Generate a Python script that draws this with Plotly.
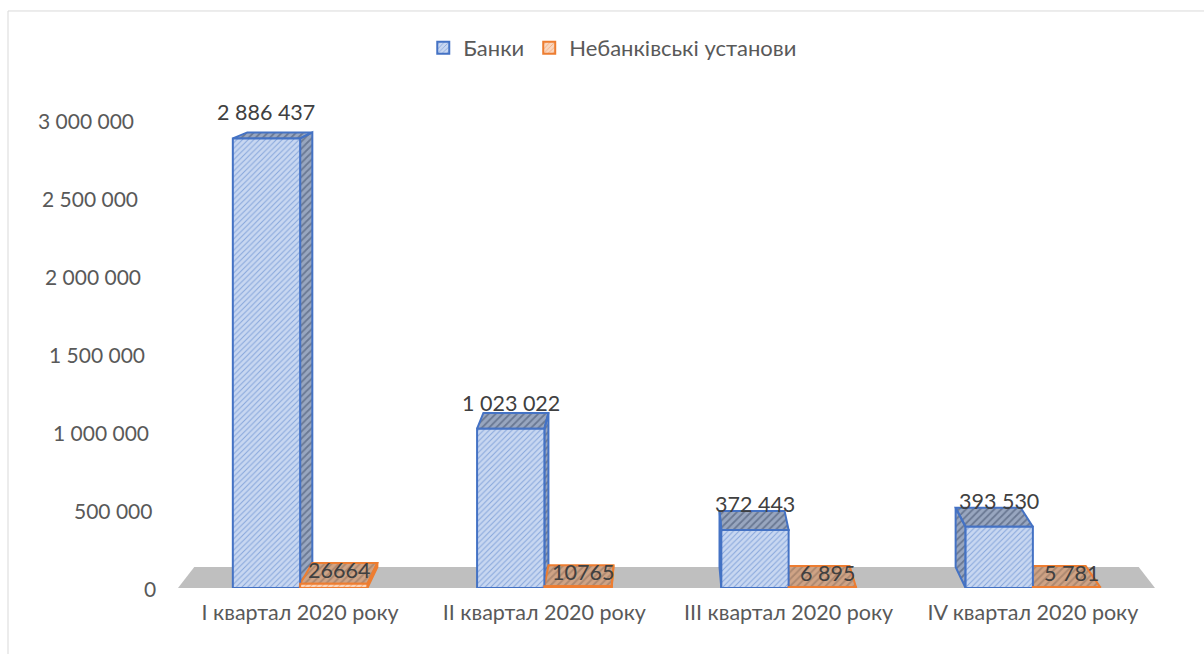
import plotly.graph_objects as go

# ---------------- data ----------------
categories = ["I квартал 2020 року", "II квартал 2020 року",
              "III квартал 2020 року", "IV квартал 2020 року"]
series_names = ["Банки", "Небанківські установи"]
banks = [2886437, 1023022, 372443, 393530]
nonbanks = [26664, 10765, 6895, 5781]
banks_labels = ["2 886 437", "1 023 022", "372 443", "393 530"]
nonbanks_labels = ["26664", "10765", "6 895", "5 781"]
y_ticks = [0, 500000, 1000000, 1500000, 2000000, 2500000, 3000000]
y_tick_labels = ["0", "500 000", "1 000 000", "1 500 000",
                 "2 000 000", "2 500 000", "3 000 000"]

# ---------------- style ----------------
FONT = "Lato"
X_RANGE = [-0.5, len(categories) - 0.5]
Y_RANGE = [0, 3300000]
BAR_W = 0.2755
VP_X, VP_Y = 1.5, 4050000      # perspective vanishing point (data units)
DEPTH = 0.0333                 # depth of the 3-D boxes
BLUE = "#4472c4"
ORANGE = "#ed7d31"

xs = list(range(len(categories)))


def back(x, y):
    return x + DEPTH * (VP_X - x), y + DEPTH * (VP_Y - y)


def box_faces(x0, x1, v):
    """polygons for top + visible side face of a box"""
    polys = [[(x0, v), (x1, v), back(x1, v), back(x0, v)]]
    if x1 <= VP_X:
        polys.append([(x1, 0), (x1, v), back(x1, v), back(x1, 0)])
    elif x0 >= VP_X:
        polys.append([(x0, 0), (x0, v), back(x0, v), back(x0, 0)])
    return polys


def polys_to_xy(polys):
    px, py = [], []
    for p in polys:
        for (a, b) in p + [p[0]]:
            px.append(a)
            py.append(b)
        px.append(None)
        py.append(None)
    return px, py


fig = go.Figure()

# floor
floor = [(X_RANGE[0], 0), (X_RANGE[1], 0), back(X_RANGE[1], 0), back(X_RANGE[0], 0)]
fx, fy = polys_to_xy([floor])
fig.add_trace(go.Scatter(x=fx, y=fy, mode="lines", fill="toself",
                         fillcolor="#bfbfbf", line=dict(width=0),
                         hoverinfo="skip", showlegend=False))

# blue box faces
bpolys = []
for i, v in zip(xs, banks):
    bpolys += box_faces(i - BAR_W, i, v)
bx, by = polys_to_xy(bpolys)
fig.add_trace(go.Scatter(x=bx, y=by, mode="lines", fill="toself",
                         fillcolor="#8d9ab3",
                         fillpattern=dict(shape="/", fgcolor="#3b4a66",
                                          bgcolor="#98a6bf", size=5, solidity=0.35),
                         line=dict(color=BLUE, width=2),
                         hoverinfo="skip", showlegend=False))

# orange box faces
opolys = []
for i, v in zip(xs, nonbanks):
    opolys += box_faces(i, i + BAR_W, v)
ox, oy = polys_to_xy(opolys)
fig.add_trace(go.Scatter(x=ox, y=oy, mode="lines", fill="toself",
                         fillcolor="#c99f83",
                         fillpattern=dict(shape="/", fgcolor="#8a6e5c",
                                          bgcolor="#cfa385", size=5, solidity=0.4),
                         line=dict(color=ORANGE, width=2),
                         hoverinfo="skip", showlegend=False))

# front faces (bars) on the overlaying axes so that they sit on top
fig.add_trace(go.Bar(x=xs, y=banks, name=series_names[0], width=BAR_W, offset=-BAR_W,
                     marker=dict(color="#c2d3ef",
                                 pattern=dict(shape="/", fgcolor=BLUE, bgcolor="#c8d7f1",
                                              size=4, solidity=0.25),
                                 line=dict(color=BLUE, width=2)),
                     xaxis="x2", yaxis="y2", hoverinfo="y"))
fig.add_trace(go.Bar(x=xs, y=nonbanks, name=series_names[1], width=BAR_W, offset=0,
                     marker=dict(color="#f8cbad",
                                 pattern=dict(shape="/", fgcolor=ORANGE, bgcolor="#f9d6bf",
                                              size=4, solidity=0.25),
                                 line=dict(color=ORANGE, width=2)),
                     xaxis="x2", yaxis="y2", hoverinfo="y"))

annotations = []
for i, v, t in zip(xs, banks, banks_labels):
    annotations.append(dict(x=i - BAR_W / 2, y=v, xref="x", yref="y", text=t,
                            showarrow=False, yshift=26,
                            font=dict(family=FONT, size=21.5, color="#404040")))
for i, v, t in zip(xs, nonbanks, nonbanks_labels):
    annotations.append(dict(x=i + BAR_W / 2 + 0.02, y=v, xref="x", yref="y", text=t,
                            showarrow=False, yshift=14,
                            font=dict(family=FONT, size=21.5, color="#404040")))
# value-axis labels (follow the slanted back wall)
for v, t in zip(y_ticks, y_tick_labels):
    annotations.append(dict(x=0, y=v, xref="paper", yref="y", text=t,
                            showarrow=False, xanchor="right",
                            xshift=-20 - 22 * v / y_ticks[-1],
                            font=dict(family=FONT, size=21, color="#595959")))

shapes = [
    dict(type="line", xref="paper", yref="paper", x0=-0.174, x1=-0.174, y0=1.1226, y1=-0.2,
         line=dict(color="#d9d9d9", width=1)),
    dict(type="line", xref="paper", yref="paper", x0=-0.174, x1=1.1, y0=1.1226, y1=1.1226,
         line=dict(color="#d9d9d9", width=1)),
]

fig.update_layout(
    width=1204, height=654,
    margin=dict(l=178, r=49, t=74, b=66, autoexpand=False),
    paper_bgcolor="white", plot_bgcolor="rgba(0,0,0,0)",
    font=dict(family=FONT, size=21, color="#595959"),
    barmode="overlay",
    showlegend=True,
    legend=dict(orientation="h", xref="paper", yref="paper",
                x=0.445, y=1.0506, xanchor="center", yanchor="middle",
                font=dict(family=FONT, size=22, color="#595959"),
                bgcolor="rgba(0,0,0,0)", itemwidth=30),
    xaxis=dict(range=X_RANGE, tickvals=xs, ticktext=categories,
               showgrid=False, zeroline=False, showline=False, ticks="",
               ticklabelstandoff=9,
               tickfont=dict(family=FONT, size=21.5, color="#595959")),
    yaxis=dict(range=Y_RANGE, showgrid=False, zeroline=False, showline=False,
               showticklabels=False, ticks=""),
    xaxis2=dict(range=X_RANGE, overlaying="x", visible=False),
    yaxis2=dict(range=Y_RANGE, overlaying="y", visible=False),
    annotations=annotations,
    shapes=shapes,
)

fig.write_html("out.html")
